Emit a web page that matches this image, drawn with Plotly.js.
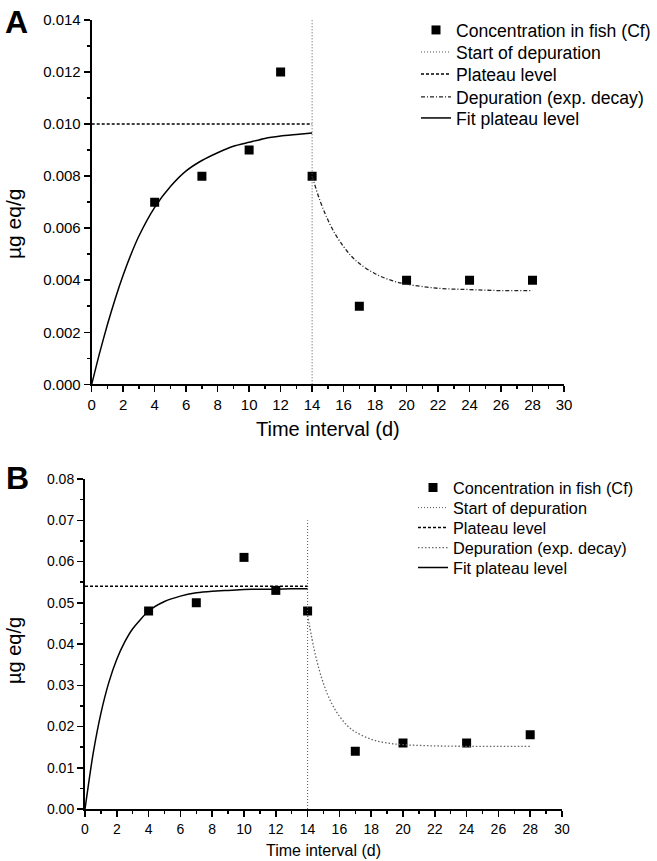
<!DOCTYPE html>
<html><head><meta charset="utf-8">
<script src="https://cdn.plot.ly/plotly-3.0.1.min.js"></script>
<style>html,body{margin:0;padding:0;background:#fff}#chart{width:657px;height:861px}</style>
</head><body><div id="chart"></div>
<script>
// Measured data points
const days = [4, 7, 10, 12, 14, 17, 20, 24, 28];
const cfA = [0.007, 0.008, 0.009, 0.012, 0.008, 0.003, 0.004, 0.004, 0.004];
const cfB = [0.048, 0.050, 0.061, 0.053, 0.048, 0.014, 0.016, 0.016, 0.018];

// Start of depuration
const depStartX = [14, 14];
const depStartA = [0, 0.014];
const depStartB = [0, 0.07];

// Plateau levels
const plateauX = [0, 14];
const plateauA = [0.010, 0.010];
const plateauB = [0.054, 0.054];

// Fit plateau level curves
const fitT = [0, 0.5, 1, 1.5, 2, 2.5, 3, 4, 5, 6, 7, 8, 9, 10, 11, 12, 13, 14];
const fitA = [0, 0.0012, 0.0023, 0.0033, 0.0042, 0.0050, 0.0057, 0.0068, 0.0076, 0.0082, 0.0086, 0.0089, 0.00915, 0.0093, 0.00945, 0.00954, 0.0096, 0.00966];
const fitB = [0, 0.0132, 0.0232, 0.0307, 0.0363, 0.0405, 0.0437, 0.0480, 0.0503, 0.0516, 0.0524, 0.0528, 0.0530, 0.0532, 0.0533, 0.0533, 0.0534, 0.0534];

// Depuration (exp. decay) curves
const decT = [14, 14.5, 15, 15.5, 16, 16.5, 17, 18, 19, 20, 22, 24, 26, 28];
const decA = [0.0080, 0.00706, 0.00632, 0.00574, 0.00529, 0.00492, 0.00464, 0.00425, 0.0040, 0.00385, 0.00369, 0.00364, 0.0036, 0.0036];
const decB = [0.047, 0.0372, 0.0304, 0.0257, 0.0225, 0.0202, 0.0187, 0.0169, 0.0160, 0.0156, 0.0153, 0.0152, 0.0152, 0.0152];

const xTicks = [0, 2, 4, 6, 8, 10, 12, 14, 16, 18, 20, 22, 24, 26, 28, 30];
const seriesNames = ['Concentration in fish (Cf)', 'Start of depuration', 'Plateau level', 'Depuration (exp. decay)', 'Fit plateau level'];

const W = 657, H = 861;
const F = 'Arial, "Liberation Sans", sans-serif';

function panel(xa, ya, legs, cf, vy, pl, fit, dec, decDash) {
  return [
    {x: days, y: cf, xaxis: xa, yaxis: ya, legend: legs[0], mode: 'markers', type: 'scatter', name: seriesNames[0],
     marker: {symbol: 'square', size: 9, color: '#000'}},
    {x: depStartX, y: vy, xaxis: xa, yaxis: ya, legend: legs[1], mode: 'lines', name: seriesNames[1],
     line: {color: '#555', width: 1, dash: '1px,2px'}},
    {x: plateauX, y: pl, xaxis: xa, yaxis: ya, legend: legs[2], mode: 'lines', name: seriesNames[2],
     line: {color: '#000', width: 1.5, dash: '3px,2px'}},
    {x: decT, y: dec, xaxis: xa, yaxis: ya, legend: legs[3], mode: 'lines', name: seriesNames[3],
     line: {color: decDash === 'dd' ? '#222' : '#666', width: 1.3, dash: decDash === 'dd' ? '4px,2px,1px,2px' : '1.5px,2px', shape: 'spline'}},
    {x: fitT, y: fit, xaxis: xa, yaxis: ya, legend: legs[4], mode: 'lines', name: seriesNames[4],
     line: {color: '#000', width: 1.5, shape: 'spline', smoothing: 0.6}}
  ];
}

const legA = ['legend', 'legend2', 'legend3', 'legend4', 'legend5'];
const legB = ['legend6', 'legend7', 'legend8', 'legend9', 'legend10'];

const data = [].concat(
  panel('x', 'y', legA, cfA, depStartA, plateauA, fitA, decA, 'dd'),
  panel('x2', 'y2', legB, cfB, depStartB, plateauB, fitB, decB, 'dot')
);

function xax(domain, anchor, fs) {
  return {domain: domain, anchor: anchor, range: [0, 30], tickvals: xTicks, ticktext: xTicks.map(String),
    showgrid: false, zeroline: false, showline: true, linecolor: '#000', linewidth: 2,
    ticks: 'outside', ticklen: 6, tickwidth: 1.5, tickcolor: '#000',
    minor: {dtick: 1, ticks: 'outside', ticklen: 3, tickwidth: 1.5, tickcolor: '#000', showgrid: false},
    tickfont: {family: F, size: fs, color: '#000'}, fixedrange: true};
}
function yax(domain, anchor, range, dtick, fmt, fs) {
  return {domain: domain, anchor: anchor, range: range, dtick: dtick, tick0: 0, tickformat: fmt,
    showgrid: false, zeroline: false, showline: true, linecolor: '#000', linewidth: 2,
    ticks: 'outside', ticklen: 6, tickwidth: 1.5, tickcolor: '#000',
    minor: {dtick: dtick / 2, ticks: 'outside', ticklen: 3, tickwidth: 1.5, tickcolor: '#000', showgrid: false},
    tickfont: {family: F, size: fs, color: '#000'}, fixedrange: true};
}

const layout = {
  width: W, height: H, margin: {l: 0, r: 0, t: 0, b: 0, autoexpand: false},
  paper_bgcolor: '#fff', plot_bgcolor: 'rgba(0,0,0,0)', showlegend: true,
  font: {family: F, color: '#000'},
  xaxis: xax([91.7 / W, 564 / W], 'y', 15),
  yaxis: yax([(H - 384.3) / H, (H - 20) / H], 'x', [0, 0.014], 0.002, '.3f', 15),
  xaxis2: xax([85 / W, 562 / W], 'y2', 14),
  yaxis2: yax([(H - 809) / H, (H - 479) / H], 'x2', [0, 0.08], 0.01, '.2f', 14),
  annotations: [
    {text: '<b>A</b>', x: 3 / W, y: (H - 2) / H, xref: 'paper', yref: 'paper', xanchor: 'left', yanchor: 'top', showarrow: false, font: {family: F, size: 32, color: '#000'}},
    {text: '<b>B</b>', x: 4 / W, y: (H - 458) / H, xref: 'paper', yref: 'paper', xanchor: 'left', yanchor: 'top', showarrow: false, font: {family: F, size: 32, color: '#000'}},
    {text: 'Time interval (d)', x: 327.5 / W, y: (H - 429) / H, xref: 'paper', yref: 'paper', xanchor: 'center', yanchor: 'middle', showarrow: false, font: {family: F, size: 20, color: '#000'}},
    {text: 'Time interval (d)', x: 323 / W, y: (H - 850) / H, xref: 'paper', yref: 'paper', xanchor: 'center', yanchor: 'middle', showarrow: false, font: {family: F, size: 16, color: '#000'}},
    {text: 'µg eq/g', x: 14 / W, y: (H - 224) / H, xref: 'paper', yref: 'paper', xanchor: 'center', yanchor: 'middle', textangle: -90, showarrow: false, font: {family: F, size: 21, color: '#000'}},
    {text: 'µg eq/g', x: 14 / W, y: (H - 651) / H, xref: 'paper', yref: 'paper', xanchor: 'center', yanchor: 'middle', textangle: -90, showarrow: false, font: {family: F, size: 20, color: '#000'}}
  ]
};

const rowsA = [30, 52, 74, 97, 118];
const rowsB = [488, 508, 528, 548, 568];
function addLegends(names, rows, left, fs) {
  names.forEach((nm, i) => {
    layout[nm] = {x: left / W, y: (H - rows[i]) / H, xanchor: 'left', yanchor: 'middle',
      bgcolor: 'rgba(0,0,0,0)', borderwidth: 0, font: {family: F, size: fs, color: '#000'},
      itemwidth: 30, tracegroupgap: 0};
  });
}
addLegends(legA, rowsA, 416, 17.6);
addLegends(legB, rowsB, 413, 16.3);

Plotly.newPlot('chart', data, layout, {staticPlot: true, displayModeBar: false});
</script>
</body></html>
